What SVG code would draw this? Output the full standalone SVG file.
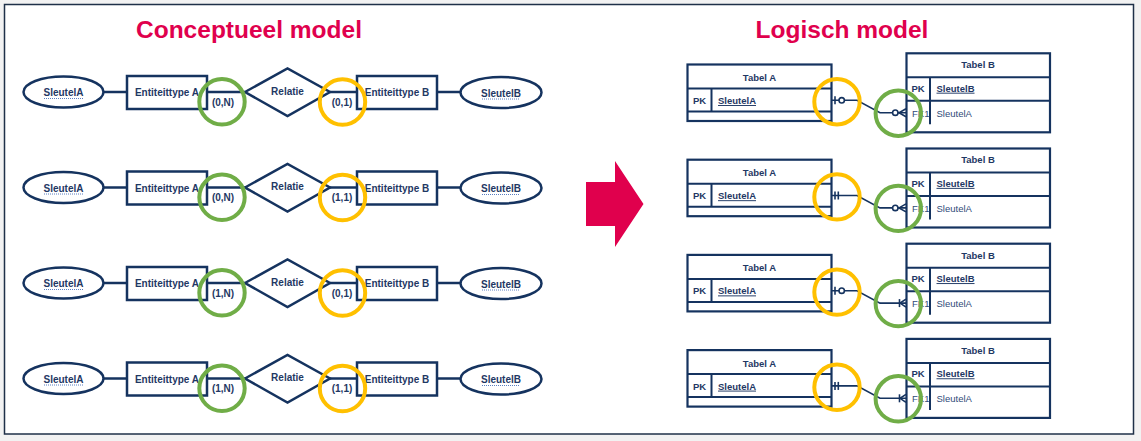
<svg xmlns="http://www.w3.org/2000/svg" width="1141" height="441" viewBox="0 0 1141 441">
<style>
.ln{stroke:#15335f;stroke-width:2.5;fill:none}
.sh{stroke:#15335f;stroke-width:2.5;fill:#fff}
.tb{stroke:#15335f;stroke-width:2.2;fill:#fff}
.il{stroke:#15335f;stroke-width:2;fill:none}
.cn{stroke:#15335f;stroke-width:1.6;fill:none}
.cw{stroke:#15335f;stroke-width:1.6;fill:#fff}
.t{font-family:"Liberation Sans",Arial,sans-serif;font-weight:bold;font-size:10px;fill:#1f3864}
.ts{font-family:"Liberation Sans",Arial,sans-serif;font-weight:bold;font-size:9.5px;fill:#1f3864}
.tn{font-family:"Liberation Sans",Arial,sans-serif;font-size:9.5px;fill:#2f4a78}
.m{text-anchor:middle}
.u{text-decoration:underline}
.dot{stroke:#5b7fc0;stroke-width:1;stroke-dasharray:1 1}
.gc{stroke:#70ad47;stroke-width:4;fill:none}
.yc{stroke:#ffc000;stroke-width:4;fill:none}
.title{font-family:"Liberation Sans",Arial,sans-serif;font-weight:bold;font-size:24.5px;fill:#e0004d;text-anchor:middle}
</style>
<rect x="0" y="0" width="1141" height="441" fill="#f2f2f2"/>
<rect x="4.5" y="4.5" width="1129" height="429.5" fill="#fff" stroke="#1f3048" stroke-width="1.5"/>
<text class="title" x="249" y="38">Conceptueel model</text>
<text class="title" x="842" y="38">Logisch model</text>
<polygon id="arrow" points="586,182 615,182 615,161 643.5,204 615,247 615,226 586,226" fill="#e0004d"/>

<g id="connectors-conceptual">
<g><line class="ln" x1="103.5" y1="92" x2="127" y2="92"/><line class="ln" x1="207" y1="92" x2="245" y2="92"/><line class="ln" x1="330" y1="92" x2="357" y2="92"/><line class="ln" x1="437" y1="92" x2="461" y2="92"/></g>
<g transform="translate(0,95.5)"><line class="ln" x1="103.5" y1="92" x2="127" y2="92"/><line class="ln" x1="207" y1="92" x2="245" y2="92"/><line class="ln" x1="330" y1="92" x2="357" y2="92"/><line class="ln" x1="437" y1="92" x2="461" y2="92"/></g>
<g transform="translate(0,191)"><line class="ln" x1="103.5" y1="92" x2="127" y2="92"/><line class="ln" x1="207" y1="92" x2="245" y2="92"/><line class="ln" x1="330" y1="92" x2="357" y2="92"/><line class="ln" x1="437" y1="92" x2="461" y2="92"/></g>
<g transform="translate(0,286.5)"><line class="ln" x1="103.5" y1="92" x2="127" y2="92"/><line class="ln" x1="207" y1="92" x2="245" y2="92"/><line class="ln" x1="330" y1="92" x2="357" y2="92"/><line class="ln" x1="437" y1="92" x2="461" y2="92"/></g>
</g>

<g transform="translate(0,0)">
<g id="c1-sleutelA"><ellipse class="sh" cx="63.5" cy="92" rx="40" ry="15.5"/><text class="t m" x="63.5" y="96">SleutelA</text><line class="dot" x1="44" y1="98.5" x2="83" y2="98.5"/></g>
<g id="c1-entA"><rect class="sh" x="127" y="76" width="80" height="33"/><text class="t m" x="167" y="96">Entiteittype A</text></g>
<g id="c1-rel"><polygon class="sh" points="245,92 287.5,68.5 330,92 287.5,116"/><text class="t m" x="287.5" y="94.5">Relatie</text><text class="t m" x="223" y="105.5">(0,N)</text><text class="t m" x="342" y="105.5">(0,1)</text></g>
<g id="c1-entB"><rect class="sh" x="357" y="76" width="80" height="33"/><text class="t m" x="397" y="96">Entiteittype B</text></g>
<g id="c1-sleutelB"><ellipse class="sh" cx="501" cy="92.5" rx="40.5" ry="15.5"/><text class="t m" x="501" y="96.5">SleutelB</text><line class="dot" x1="482" y1="99" x2="520" y2="99"/></g>
<circle class="gc" cx="222" cy="101.8" r="22.7"/><circle class="yc" cx="342.5" cy="102" r="22.7"/>
</g>

<g transform="translate(0,95.5)">
<g id="c2-sleutelA"><ellipse class="sh" cx="63.5" cy="92" rx="40" ry="15.5"/><text class="t m" x="63.5" y="96">SleutelA</text><line class="dot" x1="44" y1="98.5" x2="83" y2="98.5"/></g>
<g id="c2-entA"><rect class="sh" x="127" y="76" width="80" height="33"/><text class="t m" x="167" y="96">Entiteittype A</text></g>
<g id="c2-rel"><polygon class="sh" points="245,92 287.5,68.5 330,92 287.5,116"/><text class="t m" x="287.5" y="94.5">Relatie</text><text class="t m" x="223" y="105.5">(0,N)</text><text class="t m" x="342" y="105.5">(1,1)</text></g>
<g id="c2-entB"><rect class="sh" x="357" y="76" width="80" height="33"/><text class="t m" x="397" y="96">Entiteittype B</text></g>
<g id="c2-sleutelB"><ellipse class="sh" cx="501" cy="92.5" rx="40.5" ry="15.5"/><text class="t m" x="501" y="96.5">SleutelB</text><line class="dot" x1="482" y1="99" x2="520" y2="99"/></g>
<circle class="gc" cx="222" cy="101.8" r="22.7"/><circle class="yc" cx="342.5" cy="102" r="22.7"/>
</g>

<g transform="translate(0,191)">
<g id="c3-sleutelA"><ellipse class="sh" cx="63.5" cy="92" rx="40" ry="15.5"/><text class="t m" x="63.5" y="96">SleutelA</text><line class="dot" x1="44" y1="98.5" x2="83" y2="98.5"/></g>
<g id="c3-entA"><rect class="sh" x="127" y="76" width="80" height="33"/><text class="t m" x="167" y="96">Entiteittype A</text></g>
<g id="c3-rel"><polygon class="sh" points="245,92 287.5,68.5 330,92 287.5,116"/><text class="t m" x="287.5" y="94.5">Relatie</text><text class="t m" x="223" y="105.5">(1,N)</text><text class="t m" x="342" y="105.5">(0,1)</text></g>
<g id="c3-entB"><rect class="sh" x="357" y="76" width="80" height="33"/><text class="t m" x="397" y="96">Entiteittype B</text></g>
<g id="c3-sleutelB"><ellipse class="sh" cx="501" cy="92.5" rx="40.5" ry="15.5"/><text class="t m" x="501" y="96.5">SleutelB</text><line class="dot" x1="482" y1="99" x2="520" y2="99"/></g>
<circle class="gc" cx="222" cy="101.8" r="22.7"/><circle class="yc" cx="342.5" cy="102" r="22.7"/>
</g>

<g transform="translate(0,286.5)">
<g id="c4-sleutelA"><ellipse class="sh" cx="63.5" cy="92" rx="40" ry="15.5"/><text class="t m" x="63.5" y="96">SleutelA</text><line class="dot" x1="44" y1="98.5" x2="83" y2="98.5"/></g>
<g id="c4-entA"><rect class="sh" x="127" y="76" width="80" height="33"/><text class="t m" x="167" y="96">Entiteittype A</text></g>
<g id="c4-rel"><polygon class="sh" points="245,92 287.5,68.5 330,92 287.5,116"/><text class="t m" x="287.5" y="94.5">Relatie</text><text class="t m" x="223" y="105.5">(1,N)</text><text class="t m" x="342" y="105.5">(1,1)</text></g>
<g id="c4-entB"><rect class="sh" x="357" y="76" width="80" height="33"/><text class="t m" x="397" y="96">Entiteittype B</text></g>
<g id="c4-sleutelB"><ellipse class="sh" cx="501" cy="92.5" rx="40.5" ry="15.5"/><text class="t m" x="501" y="96.5">SleutelB</text><line class="dot" x1="482" y1="99" x2="520" y2="99"/></g>
<circle class="gc" cx="222" cy="101.8" r="22.7"/><circle class="yc" cx="342.5" cy="102" r="22.7"/>
</g>

<g transform="translate(0,0)">
<g id="l1-tabelA"><rect class="tb" x="687.5" y="64.5" width="144" height="56.5"/><line class="il" x1="687.5" y1="88.5" x2="831.5" y2="88.5"/><line class="il" x1="687.5" y1="111.5" x2="831.5" y2="111.5"/><line class="il" x1="711.5" y1="88.5" x2="711.5" y2="111.5"/><text class="ts m" x="759.5" y="81">Tabel A</text><text class="ts" x="693" y="104">PK</text><text class="ts u" x="718" y="104">SleutelA</text></g>
<g id="l1-tabelB"><rect class="tb" x="906.5" y="53.3" width="143.5" height="79"/><line class="il" x1="906.5" y1="77.3" x2="1050" y2="77.3"/><line class="il" x1="906.5" y1="100.8" x2="1050" y2="100.8"/><line class="il" x1="930" y1="77.3" x2="930" y2="124.3"/><text class="ts m" x="978" y="68.3">Tabel B</text><text class="ts" x="911.5" y="91.7">PK</text><text class="ts u" x="936.5" y="91.7">SleutelB</text><text class="tn" x="912" y="116.7">FK1</text><text class="tn" x="936.5" y="116.7">SleutelA</text></g>
</g>
<g transform="translate(0,95.2)">
<g id="l2-tabelA"><rect class="tb" x="687.5" y="64.5" width="144" height="56.5"/><line class="il" x1="687.5" y1="88.5" x2="831.5" y2="88.5"/><line class="il" x1="687.5" y1="111.5" x2="831.5" y2="111.5"/><line class="il" x1="711.5" y1="88.5" x2="711.5" y2="111.5"/><text class="ts m" x="759.5" y="81">Tabel A</text><text class="ts" x="693" y="104">PK</text><text class="ts u" x="718" y="104">SleutelA</text></g>
<g id="l2-tabelB"><rect class="tb" x="906.5" y="53.3" width="143.5" height="79"/><line class="il" x1="906.5" y1="77.3" x2="1050" y2="77.3"/><line class="il" x1="906.5" y1="100.8" x2="1050" y2="100.8"/><line class="il" x1="930" y1="77.3" x2="930" y2="124.3"/><text class="ts m" x="978" y="68.3">Tabel B</text><text class="ts" x="911.5" y="91.7">PK</text><text class="ts u" x="936.5" y="91.7">SleutelB</text><text class="tn" x="912" y="116.7">FK1</text><text class="tn" x="936.5" y="116.7">SleutelA</text></g>
</g>
<g transform="translate(0,190.4)">
<g id="l3-tabelA"><rect class="tb" x="687.5" y="64.5" width="144" height="56.5"/><line class="il" x1="687.5" y1="88.5" x2="831.5" y2="88.5"/><line class="il" x1="687.5" y1="111.5" x2="831.5" y2="111.5"/><line class="il" x1="711.5" y1="88.5" x2="711.5" y2="111.5"/><text class="ts m" x="759.5" y="81">Tabel A</text><text class="ts" x="693" y="104">PK</text><text class="ts u" x="718" y="104">SleutelA</text></g>
<g id="l3-tabelB"><rect class="tb" x="906.5" y="53.3" width="143.5" height="79"/><line class="il" x1="906.5" y1="77.3" x2="1050" y2="77.3"/><line class="il" x1="906.5" y1="100.8" x2="1050" y2="100.8"/><line class="il" x1="930" y1="77.3" x2="930" y2="124.3"/><text class="ts m" x="978" y="68.3">Tabel B</text><text class="ts" x="911.5" y="91.7">PK</text><text class="ts u" x="936.5" y="91.7">SleutelB</text><text class="tn" x="912" y="116.7">FK1</text><text class="tn" x="936.5" y="116.7">SleutelA</text></g>
</g>
<g transform="translate(0,285.6)">
<g id="l4-tabelA"><rect class="tb" x="687.5" y="64.5" width="144" height="56.5"/><line class="il" x1="687.5" y1="88.5" x2="831.5" y2="88.5"/><line class="il" x1="687.5" y1="111.5" x2="831.5" y2="111.5"/><line class="il" x1="711.5" y1="88.5" x2="711.5" y2="111.5"/><text class="ts m" x="759.5" y="81">Tabel A</text><text class="ts" x="693" y="104">PK</text><text class="ts u" x="718" y="104">SleutelA</text></g>
<g id="l4-tabelB"><rect class="tb" x="906.5" y="53.3" width="143.5" height="79"/><line class="il" x1="906.5" y1="77.3" x2="1050" y2="77.3"/><line class="il" x1="906.5" y1="100.8" x2="1050" y2="100.8"/><line class="il" x1="930" y1="77.3" x2="930" y2="124.3"/><text class="ts m" x="978" y="68.3">Tabel B</text><text class="ts" x="911.5" y="91.7">PK</text><text class="ts u" x="936.5" y="91.7">SleutelB</text><text class="tn" x="912" y="116.7">FK1</text><text class="tn" x="936.5" y="116.7">SleutelA</text></g>
</g>

<g id="connectors-logical">
<g id="lc1"><polyline class="cn" points="832,100.3 857,100.3 880,112.7 906,112.7"/><line class="cn" x1="835" y1="96.3" x2="835" y2="104.3"/><circle class="cw" cx="841.7" cy="100.3" r="2.7"/><circle class="cw" cx="895.3" cy="112.7" r="2.7"/><polyline class="cn" points="906,108.7 899,112.7 906,116.7"/></g>
<g id="lc2" transform="translate(0,95.2)"><polyline class="cn" points="832,100.3 857,100.3 880,112.7 906,112.7"/><line class="cn" x1="835" y1="96.3" x2="835" y2="104.3"/><line class="cn" x1="838.3" y1="96.3" x2="838.3" y2="104.3"/><circle class="cw" cx="895.3" cy="112.7" r="2.7"/><polyline class="cn" points="906,108.7 899,112.7 906,116.7"/></g>
<g id="lc3" transform="translate(0,190.4)"><polyline class="cn" points="832,100.3 857,100.3 880,112.7 906,112.7"/><line class="cn" x1="835" y1="96.3" x2="835" y2="104.3"/><circle class="cw" cx="841.7" cy="100.3" r="2.7"/><line class="cn" x1="899.5" y1="108.7" x2="899.5" y2="116.7"/><polyline class="cn" points="906,108.7 900,112.7 906,116.7"/></g>
<g id="lc4" transform="translate(0,285.6)"><polyline class="cn" points="832,100.3 857,100.3 880,112.7 906,112.7"/><line class="cn" x1="835" y1="96.3" x2="835" y2="104.3"/><line class="cn" x1="838.3" y1="96.3" x2="838.3" y2="104.3"/><line class="cn" x1="899.5" y1="108.7" x2="899.5" y2="116.7"/><polyline class="cn" points="906,108.7 900,112.7 906,116.7"/></g>
</g>

<g id="highlights-logical">
<circle class="yc" cx="837" cy="101.7" r="22.7"/><circle class="gc" cx="898.3" cy="113.2" r="22.7"/>
<circle class="yc" cx="837" cy="196.9" r="22.7"/><circle class="gc" cx="898.3" cy="208.4" r="22.7"/>
<circle class="yc" cx="837" cy="292.1" r="22.7"/><circle class="gc" cx="898.3" cy="303.6" r="22.7"/>
<circle class="yc" cx="837" cy="387.3" r="22.7"/><circle class="gc" cx="898.3" cy="398.8" r="22.7"/>
</g>
</svg>
